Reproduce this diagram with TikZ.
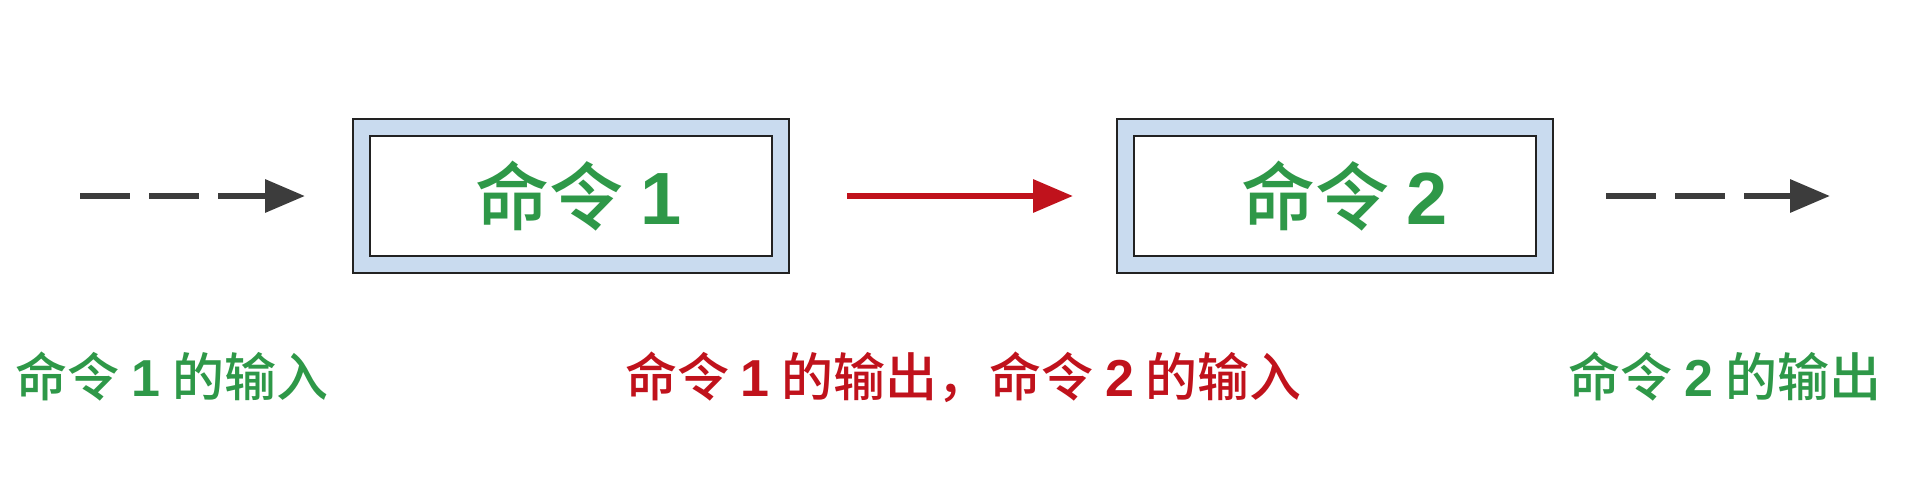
\documentclass[tikz,border=0pt]{standalone}
\usepackage{fontspec}
\setmainfont{Noto Sans CJK SC}[BoldFont={* Medium}]
\newfontfamily\digitfont{Liberation Sans}
\newcommand{\cmdno}[1]{{\digitfont\bfseries #1}}
\usepackage{xcolor}
\usetikzlibrary{arrows.meta}

\definecolor{cmdgreen}{RGB}{46,152,72}
\definecolor{cmdred}{RGB}{192,18,28}
\definecolor{boxblue}{RGB}{201,219,239}
\definecolor{boxline}{RGB}{34,34,34}
\definecolor{arrowgray}{RGB}{60,60,60}

\begin{document}
\begin{tikzpicture}[x=0.5pt, y=0.5pt,
  cmd/.style={draw=boxline, line width=1pt, double=boxblue, double distance=7.5pt,
    fill=white, minimum width=209.5pt, minimum height=68.5pt, inner sep=0pt,
    outer sep=0pt, text=cmdgreen, font=\fontsize{37}{40}\selectfont\bfseries},
  io/.style={font=\fontsize{26}{30}\selectfont\bfseries},
  paths/.style={-{Triangle[length=20pt, width=16pt]}, line width=3.2pt, color=arrowgray},
  dashpaths/.style={paths, dash pattern=on 25pt off 9.5pt}]

 \useasboundingbox (0,0) rectangle (1912,500);

 \coordinate (in_1) at (80,304);
 \coordinate (out_2) at (1830,304);

 \node[cmd] (cmd_1) at (570.5,304)
     {\hspace{8pt}命令 \cmdno{1}};

 \node[cmd] (cmd_2) at (1334.5,304)
     {\hspace{10pt}命令 \cmdno{2}};

 \node[io, text=cmdgreen] (in_1_text) at (172,123)
     {命令 \cmdno{1} 的输入};

 \node[io, text=cmdred] (pipe_text) at (963.5,123)
     {命令 \cmdno{1} 的输出，命令 \cmdno{2} 的输入};

 \node[io, text=cmdgreen] (out_2_text) at (1725,123)
     {命令 \cmdno{2} 的输出};

 \draw [dashpaths, shorten >=28pt] (in_1) -- (cmd_1);
 \draw [paths, color=cmdred, shorten <=33.5pt, shorten >=26pt] (cmd_1) -- (cmd_2);
 \draw [dashpaths, shorten <=31pt] (cmd_2) -- (out_2);

\end{tikzpicture}
\end{document}
